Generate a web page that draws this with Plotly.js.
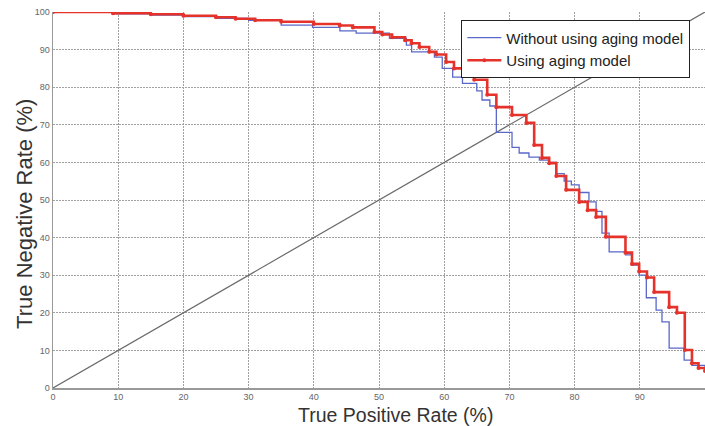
<!DOCTYPE html>
<html>
<head>
<meta charset="utf-8">
<script src="https://cdn.plot.ly/plotly-3.0.1.min.js"></script>
<style>html,body{margin:0;padding:0;background:#fff;}#chart{width:705px;height:426px;}</style>
</head>
<body>
<div id="chart"></div>
<script>
// Step curve vertices (x = True Positive Rate %, y = True Negative Rate %)
var blueX = [0, 9.2, 15, 20, 25, 30, 35, 39.8, 44, 46.5, 51.6, 54.2, 55, 58.5, 59.7, 61.3, 62.8, 65, 65.8, 67, 68, 70.4, 71.5, 73, 74.6, 76.1, 77.2, 78.4, 79.5, 80.7, 82.2, 83.3, 84.2, 85.3, 87.8, 88.8, 89.9, 91, 92.5, 93.4, 94.5, 96.8, 98, 100];
var blueY = [100, 99.5, 99.2, 98.8, 98.3, 97.8, 96.5, 95.9, 95, 94.4, 93, 91.2, 89.4, 88, 85, 82.7, 81, 79, 76.6, 75, 68, 64, 62.5, 61.4, 60.6, 60, 57, 55, 54, 52, 49.5, 47, 41.2, 36.2, 35.4, 32.7, 30, 24, 20.7, 17.6, 10.6, 7.4, 6, 5.5];

var redX = [0, 9.2, 15, 20, 25, 28, 31, 35, 40, 44, 46, 49.3, 50.5, 52, 54, 55, 56.2, 57.7, 58.8, 60.3, 61.5, 63.4, 64.6, 66.6, 68, 70.4, 72.6, 73.8, 75, 76.1, 77.2, 78.7, 80.7, 82, 83.3, 84.8, 87.8, 88.8, 89.9, 91.1, 92.2, 94.5, 95.7, 96.9, 98, 99, 100];
var redY = [100, 99.7, 99.4, 99, 98.6, 98.2, 97.8, 97.4, 96.8, 96.4, 95.9, 94.7, 94, 93.3, 92.5, 91.7, 90.7, 89.4, 88.7, 86.7, 85, 84, 82, 78, 74.7, 72.6, 70.5, 64.6, 61.2, 59.8, 56.4, 52.7, 49.5, 47.3, 45.5, 40.2, 36, 33, 31, 29.4, 25.5, 21.5, 20, 10.1, 6.6, 5.3, 4.5];

var diagX = [0, 100];
var diagY = [0, 100];

var xTicks = [0, 10, 20, 30, 40, 50, 60, 70, 80, 90, 100];
var yTicks = [0, 10, 20, 30, 40, 50, 60, 70, 80, 90, 100];

var xTitle = 'True Positive Rate (%)';
var yTitle = 'True Negative Rate (%)';

var traces = [
  {x: diagX, y: diagY, mode: 'lines', line: {color: '#6a6a6a', width: 1.2}, showlegend: false, hoverinfo: 'skip'},
  {x: blueX, y: blueY, mode: 'lines', name: 'Without using aging model',
   line: {color: '#5a68c8', width: 1.3, shape: 'hv'}},
  {x: redX, y: redY, mode: 'lines+markers', name: 'Using aging model',
   line: {color: '#e5322b', width: 2.6, shape: 'hv'},
   marker: {color: '#e5322b', size: 4}}
];

var fam = 'Liberation Sans, Arial, sans-serif';
var axisFont = {family: fam, size: 9, color: '#666'};
var layout = {
  width: 705, height: 426,
  margin: {l: 53, r: 0, t: 12, b: 38},
  paper_bgcolor: '#fff', plot_bgcolor: '#fff',
  showlegend: true,
  legend: {
    x: 0.626, y: 0.978, xanchor: 'left', yanchor: 'top',
    bgcolor: '#fff', bordercolor: '#222', borderwidth: 1.2,
    font: {family: fam, size: 15, color: '#222'},
    tracegroupgap: 0, itemwidth: 34
  },
  xaxis: {
    range: [0, 100], tickvals: xTicks, ticktext: xTicks.map(String),
    showgrid: true, gridcolor: '#a0a0a0', griddash: '1.5px,1.5px', gridwidth: 1,
    zeroline: false, showline: true, linecolor: '#999', linewidth: 1.5,
    ticks: '', tickfont: axisFont, fixedrange: true
  },
  yaxis: {
    range: [0, 100], tickvals: yTicks, ticktext: yTicks.map(String),
    showgrid: true, gridcolor: '#a0a0a0', griddash: '1.5px,1.5px', gridwidth: 1,
    zeroline: false, showline: true, linecolor: '#999', linewidth: 1.5,
    ticks: '', tickfont: axisFont, fixedrange: true
  },
  annotations: [
    {text: xTitle, xref: 'paper', yref: 'paper', x: 0.525, y: -0.072,
     xanchor: 'center', yanchor: 'middle', showarrow: false,
     font: {family: fam, size: 19.5, color: '#333'}},
    {text: yTitle, xref: 'paper', yref: 'paper', x: -0.043, y: 0.463,
     xanchor: 'center', yanchor: 'middle', showarrow: false, textangle: -90,
     font: {family: fam, size: 22, color: '#333'}}
  ]
};

Plotly.newPlot('chart', traces, layout, {staticPlot: true, displayModeBar: false});
</script>
</body>
</html>
